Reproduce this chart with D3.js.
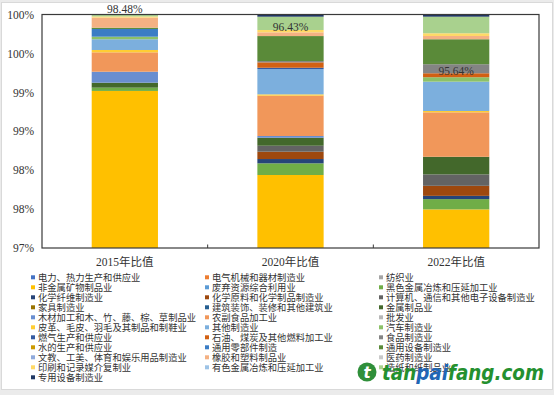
<!DOCTYPE html>
<html>
<head>
<meta charset="utf-8">
<script src="https://cdn.jsdelivr.net/npm/d3@7"></script>
<style>
  body { margin: 0; background: #fff; }
  svg { display: block; }
</style>
</head>
<body>
<svg id="chart"></svg>
<script>
// categories on the x axis
const categories = ['2015年比值', '2020年比值', '2022年比值'];

// industries, in legend (and stacking) order
const industries = [
  '电力、热力生产和供应业', '电气机械和器材制造业', '纺织业',
  '非金属矿物制品业', '废弃资源综合利用业', '黑色金属冶炼和压延加工业',
  '化学纤维制造业', '化学原料和化学制品制造业', '计算机、通信和其他电子设备制造业',
  '家具制造业', '建筑装饰、装修和其他建筑业', '金属制品业',
  '木材加工和木、竹、藤、棕、草制品业', '农副食品加工业', '批发业',
  '皮革、毛皮、羽毛及其制品和制鞋业', '其他制造业', '汽车制造业',
  '燃气生产和供应业', '石油、煤炭及其他燃料加工业', '食品制造业',
  '水的生产和供应业', '通用零部件制造', '通用设备制造业',
  '文教、工美、体育和娱乐用品制造业', '橡胶和塑料制品业', '医药制造业',
  '印刷和记录媒介复制业', '有色金属冶炼和压延加工业', '造纸和纸制品业',
  '专用设备制造业'
];

const colors = [
  '#4472C4', '#ED7D31', '#A5A5A5', '#FFC000', '#5B9BD5', '#70AD47',
  '#264478', '#9E480E', '#636363', '#997300', '#255E91', '#43682B',
  '#698ED0', '#F1975A', '#B7B7B7', '#FFCD33', '#7CAFDD', '#8CC168',
  '#335AA1', '#D26012', '#848484', '#CC9A00', '#3A7DC5', '#5A8A39',
  '#8FAADC', '#F4B183', '#C9C9C9', '#FFD966', '#9DC3E6', '#A9D18E',
  '#203864'
];

// shares in percent, one value per industry
const v2015 = [94.1, 1.2, 0.6, 3.118, 0, 0.042, 0, 0, 0, 0, 0, 0.064, 0.141, 0.249, 0, 0.030,
  0.138, 0.033, 0, 0, 0, 0, 0.099, 0.017, 0, 0.129, 0, 0.015, 0, 0.019, 0.006];
const v2020 = [90.2, 1.7, 0.9, 5.138, 0, 0.150, 0.055, 0.094, 0.077, 0, 0, 0.103, 0.022, 0.518, 0, 0.017,
  0.325, 0, 0.017, 0.069, 0.017, 0, 0, 0.321, 0, 0.048, 0, 0.030, 0, 0.171, 0.028];
const v2022 = [89.5, 1.9, 0.8, 5.296, 0, 0.132, 0.042, 0.129, 0.147, 0, 0, 0.226, 0, 0.571, 0, 0.017,
  0.377, 0.057, 0, 0.051, 0.116, 0, 0, 0.321, 0, 0.042, 0, 0.035, 0, 0.213, 0.028];

// y axis ticks (the labels are rounded to whole percent, as in the source)
const tickValues = [0.97, 0.975, 0.98, 0.985, 0.99, 0.995, 1.0];
const tickLabels = ['97%', '98%', '98%', '99%', '99%', '100%', '100%'];

// data labels and the value where each one sits
const labelTexts = ['98.48%', '96.43%', '95.64%'];
const labelAt = [1.0007, 0.9984, 0.9927];

const width = 554, height = 395;
const margin = {top: 14.5, right: 15, bottom: 147, left: 42};

const svg = d3.select('#chart').attr('width', width).attr('height', height);

// chart area background
svg.append('rect').attr('width', width).attr('height', height).attr('fill', '#ebebeb');
svg.append('rect').attr('x', 1.5).attr('y', 2.5).attr('width', 551).attr('height', 387)
  .attr('fill', '#fff').attr('stroke', '#d9d9d9');

const series = [v2015, v2020, v2022];
const rows = categories.map((c, i) => {
  const r = {cat: c};
  industries.forEach((k, j) => { r[k] = series[i][j]; });
  return r;
});

const stack = d3.stack().keys(industries).offset(d3.stackOffsetExpand);
const stacked = stack(rows);

const x = d3.scaleBand()
  .domain(categories)
  .range([margin.left, width - margin.right])
  .paddingInner(0.6)
  .paddingOuter(0.3);

const y = d3.scaleLinear()
  .domain([0.97, 1.0])
  .range([height - margin.bottom, margin.top]);

svg.append('clipPath').attr('id', 'plot')
  .append('rect')
  .attr('x', margin.left).attr('y', margin.top)
  .attr('width', width - margin.left - margin.right)
  .attr('height', height - margin.bottom - margin.top);

// bars
const g = svg.append('g').attr('clip-path', 'url(#plot)');
g.selectAll('g.layer')
  .data(stacked)
  .enter().append('g')
  .attr('class', 'layer')
  .attr('fill', (d, i) => colors[i])
  .selectAll('rect')
  .data(d => d)
  .enter().append('rect')
  .attr('x', d => x(d.data.cat))
  .attr('width', x.bandwidth())
  .attr('y', d => y(d[1]))
  .attr('height', d => Math.max(0, y(d[0]) - y(d[1])));

// plot frame
svg.append('rect')
  .attr('x', margin.left).attr('y', margin.top)
  .attr('width', width - margin.left - margin.right)
  .attr('height', height - margin.bottom - margin.top)
  .attr('fill', 'none').attr('stroke', '#3a3a3a').attr('stroke-width', 1.2);

// y axis
const yAxis = svg.append('g')
  .attr('transform', `translate(${margin.left},0)`)
  .call(d3.axisLeft(y).tickValues(tickValues).tickSize(0).tickPadding(8)
    .tickFormat((d, i) => tickLabels[i]));
yAxis.select('.domain').remove();
yAxis.selectAll('text')
  .attr('font-family', '"Liberation Serif", "Times New Roman", serif')
  .attr('font-size', 11.5).attr('fill', '#333');

// x axis
const xAxis = svg.append('g')
  .attr('transform', `translate(0,${height - margin.bottom})`)
  .call(d3.axisBottom(x).tickSize(0).tickPadding(10));
xAxis.select('.domain').remove();
xAxis.selectAll('text')
  .attr('font-family', '"Liberation Serif", "Noto Sans CJK SC", serif')
  .attr('font-size', 11.5).attr('fill', '#333');

// category separators on the bottom axis
const step = x.step();
xAxis.selectAll('line.sep')
  .data(categories.slice(1))
  .enter().append('line')
  .attr('class', 'sep')
  .attr('x1', d => x(d) - x.paddingInner() * step / 2)
  .attr('x2', d => x(d) - x.paddingInner() * step / 2)
  .attr('y1', 0).attr('y2', -3.5)
  .attr('stroke', '#3a3a3a');

// data labels
svg.selectAll('text.dl')
  .data(categories)
  .enter().append('text')
  .attr('class', 'dl')
  .attr('x', d => x(d) + x.bandwidth() / 2)
  .attr('y', (d, i) => y(labelAt[i]))
  .attr('dy', '0.35em')
  .attr('text-anchor', 'middle')
  .attr('font-family', '"Liberation Serif", "Times New Roman", serif')
  .attr('font-size', 11.5)
  .attr('fill', '#333')
  .text((d, i) => labelTexts[i]);

// legend: three columns, filled row by row
const legCols = [31, 205, 379];
const legTop = 277.3, rowH = 10;
const leg = svg.append('g').selectAll('g')
  .data(industries)
  .enter().append('g')
  .attr('transform', (d, i) => `translate(${legCols[i % 3]},${legTop + Math.floor(i / 3) * rowH})`);
leg.append('rect')
  .attr('x', 0).attr('y', -2).attr('width', 4).attr('height', 4)
  .attr('fill', (d, i) => colors[i]);
leg.append('text')
  .attr('x', 7).attr('dy', '0.36em')
  .attr('font-family', '"Noto Sans CJK SC", sans-serif')
  .attr('font-size', 9.3)
  .attr('fill', '#333')
  .text(d => d);

// watermark
const wm = svg.append('g');
wm.append('circle').attr('cx', 367).attr('cy', 372).attr('r', 9.5).attr('fill', '#2f8f3a');
wm.append('text').attr('x', 367).attr('y', 378)
  .attr('text-anchor', 'middle')
  .attr('font-family', '"DejaVu Sans", sans-serif').attr('font-weight', 'bold')
  .attr('font-style', 'italic').attr('font-size', 15).attr('fill', '#fff').text('t');
const wt = wm.append('text').attr('x', 382).attr('y', 380)
  .attr('font-family', '"DejaVu Sans", sans-serif').attr('font-weight', 'bold')
  .attr('font-style', 'italic').attr('font-size', 20.5)
  .attr('textLength', 162).attr('lengthAdjust', 'spacingAndGlyphs');
wt.append('tspan').attr('fill', '#24902f').text('tan');
wt.append('tspan').attr('fill', '#2166b5').text('pai');
wt.append('tspan').attr('fill', '#24902f').text('fang.com');
</script>
</body>
</html>
